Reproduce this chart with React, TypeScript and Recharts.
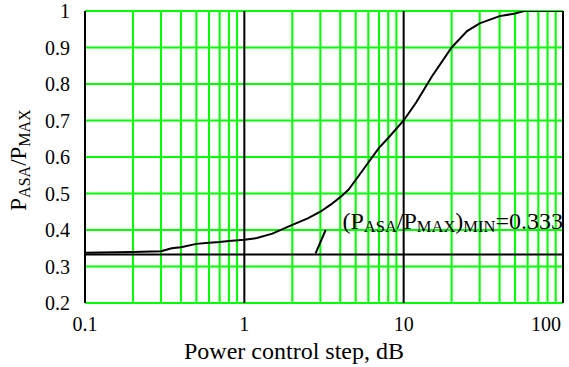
import React from 'react';
import { LineChart, Line, XAxis, YAxis, ReferenceLine, ReferenceDot } from 'recharts';

// curve (power control step in dB -> P_ASA/P_MAX)
const stepDb = [0.1, 0.2, 0.3, 0.35, 0.4, 0.5, 0.6, 0.7, 0.8, 1, 1.2, 1.5, 2, 2.5, 3, 3.5, 4, 4.5, 5, 6, 7, 8, 10, 12, 15, 20, 25, 30, 40, 50, 57, 70, 100];
const ratio = [0.338, 0.34, 0.342, 0.35, 0.353, 0.362, 0.365, 0.367, 0.37, 0.373, 0.378, 0.39, 0.414, 0.432, 0.45, 0.47, 0.49, 0.51, 0.537, 0.585, 0.625, 0.652, 0.7, 0.75, 0.82, 0.9, 0.945, 0.966, 0.986, 0.993, 1.0, 1.0, 1.0];

const xTicks = [0.1, 1, 10, 100];
const yTicks = [0.2, 0.3, 0.4, 0.5, 0.6, 0.7, 0.8, 0.9, 1];
const greenX = [0.2, 0.3, 0.4, 0.5, 0.6, 0.7, 0.8, 0.9, 2, 3, 4, 5, 6, 7, 8, 9, 20, 30, 40, 50, 60, 70, 80, 90];
const blackX = [0.1, 1, 10, 100];
const minRatio = 0.333;
const leader = [{ x: 2.8, y: 0.336 }, { x: 3.24, y: 0.4 }];
const notePos = { x: 4.13, y: 0.402 };

const data = stepDb.map((s, i) => ({ step: s, ratio: ratio[i] }));

const FONT = "'Liberation Serif', 'Times New Roman', Times, serif";

const XTick = ({ x, y, payload }: any) => {
  const last = payload.value === 100;
  return (
    <text x={last ? x + 4 : x} y={y} dy="0.71em" textAnchor={last ? 'end' : 'middle'} style={{ fontFamily: FONT }} fontSize={20} fill="#000">
      {String(payload.value)}
    </text>
  );
};

const YTick = ({ x, y, payload }: any) => (
  <text x={x} y={y} dy="0.355em" textAnchor="end" style={{ fontFamily: FONT }} fontSize={20} fill="#000">
    {String(payload.value)}
  </text>
);

const XTitle = ({ viewBox }: any) => (
  <text x={294} y={viewBox.y + 56} textAnchor="middle" style={{ fontFamily: FONT }} fontSize={24} fill="#000">
    Power control step, dB
  </text>
);

const YTitle = ({ viewBox }: any) => {
  const cx = 26;
  const cy = viewBox.y + viewBox.height / 2 + 3;
  return (
    <text x={cx} y={cy} transform={`rotate(-90, ${cx}, ${cy})`} textAnchor="middle" style={{ fontFamily: FONT }} fontSize={23} fill="#000">
      P<tspan fontSize={16} dy={4}>ASA</tspan>
      <tspan dy={-4}>/P</tspan>
      <tspan fontSize={16} dy={4}>MAX</tspan>
    </text>
  );
};

const Note = ({ viewBox }: any) => (
  <text x={viewBox.x} y={viewBox.y} style={{ fontFamily: FONT }} fontSize={24} fill="#000">
    (P<tspan fontSize={16.5} dy={3}>ASA</tspan>
    <tspan dy={-3}>/P</tspan>
    <tspan fontSize={16.5} dy={3}>MAX</tspan>
    <tspan dy={-3}>)</tspan>
    <tspan fontSize={16.5} dy={3}>MIN</tspan>
    <tspan dy={-3}>={minRatio}</tspan>
  </text>
);

export default function App() {
  return (
    <div style={{ position: 'absolute', left: 0, top: 0, width: 569, height: 367, background: '#fff', fontFamily: FONT }}>
      <LineChart width={569} height={367} data={data} margin={{ top: 11, right: 6, bottom: 0, left: 25 }}>
        <XAxis
          dataKey="step"
          type="number"
          scale="log"
          domain={[0.1, 100]}
          ticks={xTicks}
          allowDataOverflow
          axisLine={false}
          tickLine={false}
          tickSize={0}
          tickMargin={14}
          tick={<XTick />}
          height={64}
          label={<XTitle />}
        />
        <YAxis
          type="number"
          domain={[0.2, 1]}
          ticks={yTicks}
          allowDataOverflow
          axisLine={false}
          tickLine={false}
          tickSize={0}
          tickMargin={15}
          width={60}
          tick={<YTick />}
          label={<YTitle />}
        />
        {greenX.map((v) => (
          <ReferenceLine key={`gx-${v}`} x={v} stroke="#00ff00" strokeWidth={2} />
        ))}
        {yTicks.map((v) => (
          <ReferenceLine key={`gy-${v}`} y={v} stroke="#00ff00" strokeWidth={2} />
        ))}
        {blackX.map((v) => (
          <ReferenceLine key={`bx-${v}`} x={v} stroke="#000" strokeWidth={2} />
        ))}
        <ReferenceLine y={minRatio} stroke="#000" strokeWidth={2} />
        <ReferenceLine segment={leader} stroke="#000" strokeWidth={2} />
        <ReferenceDot x={notePos.x} y={notePos.y} r={0} stroke="none" fill="none" label={<Note />} />
        <Line type="linear" dataKey="ratio" stroke="#000" strokeWidth={2} dot={false} isAnimationActive={false} />
      </LineChart>
    </div>
  );
}
